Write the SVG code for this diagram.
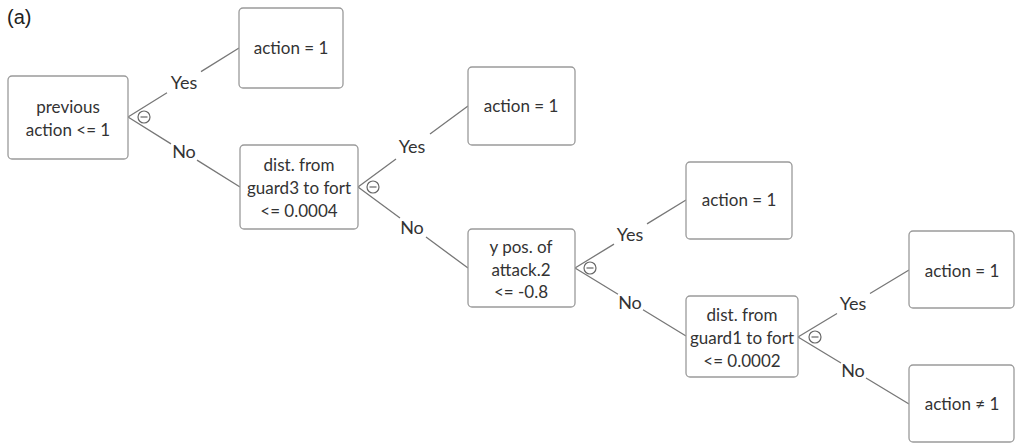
<svg xmlns="http://www.w3.org/2000/svg" width="1015" height="445" viewBox="0 0 1015 445">
<style>
.box{fill:#fff;stroke:#9a9a9a;stroke-width:1.3}
.t{font-family:Lato,"Open Sans",sans-serif;font-size:17px;fill:#333;text-anchor:middle}
.lbl{font-family:Lato,"Open Sans",sans-serif;font-size:18px;fill:#333;text-anchor:middle}
.edge{stroke:#777;stroke-width:1.3;fill:none}
.tog circle{fill:#fff;stroke:#666;stroke-width:1.2}
.tog line{stroke:#666;stroke-width:1.2}
</style>
<rect width="1015" height="445" fill="#fff"/>
<text x="7" y="24" font-family="Liberation Sans, Arial, sans-serif" font-size="20" fill="#222">(a)</text>

<g id="connectors">
<path class="edge" d="M128,117 L167,92.8 M201,71.6 L239,48"/>
<path class="edge" d="M128,117 L171,143.9 M197,160.1 L240,187"/>
<path class="edge" d="M358,187 L396,159 M430,134 L468,106"/>
<path class="edge" d="M358,187 L400,217.9 M426,237.1 L468,268"/>
<path class="edge" d="M575,268 L614,244.1 M647,223.9 L686,200"/>
<path class="edge" d="M575,268 L618,294.3 M643,309.7 L686,336"/>
<path class="edge" d="M798,337 L837,313.5 M870,293.5 L909,270"/>
<path class="edge" d="M798,337 L841,363 M866,378 L909,404"/>
<text class="lbl" x="184" y="89">Yes</text>
<text class="lbl" x="184" y="158">No</text>
<text class="lbl" x="412" y="153">Yes</text>
<text class="lbl" x="412" y="234">No</text>
<text class="lbl" x="630" y="241">Yes</text>
<text class="lbl" x="630" y="309">No</text>
<text class="lbl" x="853" y="310">Yes</text>
<text class="lbl" x="853" y="377">No</text>
</g>

<g id="n-root">
<rect class="box" x="8" y="76" width="120" height="83" rx="4"/>
<text class="t" x="68" y="113">previous</text>
<text class="t" x="68" y="136">action &lt;= 1</text>
<g class="tog"><circle cx="144" cy="117" r="6"/><line x1="140.5" y1="117" x2="147.5" y2="117"/></g>
</g>

<g id="n-leaf1">
<rect class="box" x="239" y="8" width="104" height="80" rx="4"/>
<text class="t" x="291" y="54">action = 1</text>
</g>

<g id="n-guard3">
<rect class="box" x="240" y="145" width="118" height="84" rx="4"/>
<text class="t" x="299" y="171">dist. from</text>
<text class="t" x="299" y="194">guard3 to fort</text>
<text class="t" x="299" y="217">&lt;= 0.0004</text>
<g class="tog"><circle cx="373" cy="187" r="6"/><line x1="369.5" y1="187" x2="376.5" y2="187"/></g>
</g>

<g id="n-leaf2">
<rect class="box" x="468" y="67" width="107" height="78" rx="4"/>
<text class="t" x="521" y="112">action = 1</text>
</g>

<g id="n-ypos">
<rect class="box" x="468" y="229" width="107" height="78" rx="4"/>
<text class="t" x="521" y="253">y pos. of</text>
<text class="t" x="521" y="276">attack.2</text>
<text class="t" x="521" y="298">&lt;= -0.8</text>
<g class="tog"><circle cx="590" cy="268" r="6"/><line x1="586.5" y1="268" x2="593.5" y2="268"/></g>
</g>

<g id="n-leaf3">
<rect class="box" x="686" y="162" width="106" height="77" rx="4"/>
<text class="t" x="739" y="206">action = 1</text>
</g>

<g id="n-guard1">
<rect class="box" x="686" y="296" width="112" height="81" rx="4"/>
<text class="t" x="742" y="321">dist. from</text>
<text class="t" x="742" y="344">guard1 to fort</text>
<text class="t" x="742" y="367">&lt;= 0.0002</text>
<g class="tog"><circle cx="815" cy="337" r="6"/><line x1="811.5" y1="337" x2="818.5" y2="337"/></g>
</g>

<g id="n-leaf4">
<rect class="box" x="909" y="231" width="105" height="77" rx="4"/>
<text class="t" x="962" y="277">action = 1</text>
</g>

<g id="n-leaf5">
<rect class="box" x="909" y="365" width="105" height="77" rx="4"/>
<text class="t" x="962" y="410">action ≠ 1</text>
</g>
</svg>
